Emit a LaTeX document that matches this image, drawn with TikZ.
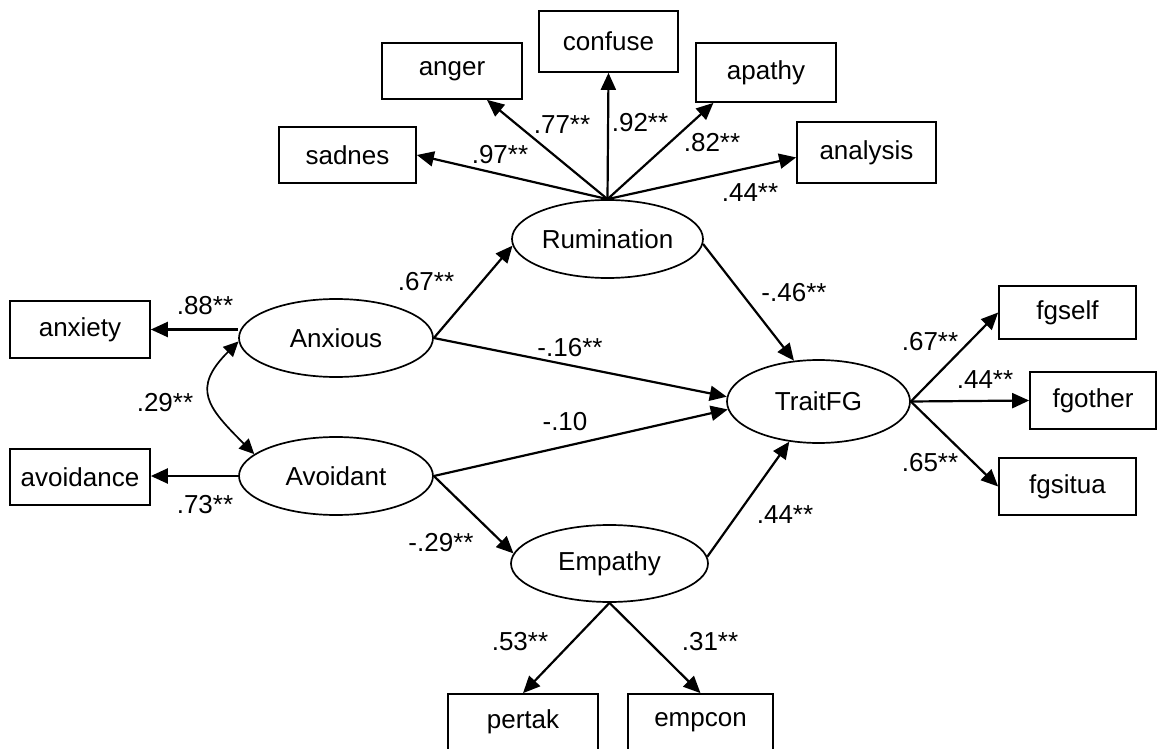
\documentclass[tikz,border=0pt]{standalone}
\usepackage{fontspec}
\setmainfont{Liberation Sans}
\usetikzlibrary{shapes.geometric,arrows.meta,calc}
\begin{document}
\begin{tikzpicture}[x=1pt,y=1pt,
  font=\fontsize{26}{30}\selectfont,
  obs/.style={draw, line width=1.7pt, inner sep=0pt},
  lat/.style={draw, ellipse, line width=1.7pt, inner sep=0pt},
  arr/.style={-{Triangle[length=17pt,width=15pt]}, line width=2.2pt},
  cov/.style={{Triangle[length=15pt,width=14pt]}-{Triangle[length=15pt,width=14pt]}, line width=1.7pt},
  coef/.style={inner sep=0pt}
]
\useasboundingbox (0,0) rectangle (1157,-749);
\fill[white] (0,0) rectangle (1157,-749);
\clip (0,0) rectangle (1157,-749);

% observed indicators
\node[obs, minimum width=137pt, minimum height=56pt] (sadnes)    at (347.5,-155)  {sadnes};
\node[obs, minimum width=140pt, minimum height=56pt] (anger)     at (452,-71)     {anger};
\node[obs, minimum width=139pt, minimum height=61pt] (confuse)   at (608.5,-41.5) {confuse};
\node[obs, minimum width=140pt, minimum height=59pt] (apathy)    at (766,-72.5)   {apathy};
\node[obs, minimum width=139pt, minimum height=61pt] (analysis)  at (866.5,-152.5){analysis};
\node[obs, minimum width=140pt, minimum height=57pt] (anxiety)   at (80,-329.5)   {anxiety};
\node[obs, minimum width=140pt, minimum height=56pt] (avoidance) at (80,-477)     {avoidance};
\node[obs, minimum width=137pt, minimum height=53pt] (fgself)    at (1067.5,-312.5){fgself};
\node[obs, minimum width=126pt, minimum height=57pt] (fgother)   at (1093,-400.5) {fgother};
\node[obs, minimum width=137pt, minimum height=57pt] (fgsitua)   at (1067.5,-486.5){fgsitua};
\node[obs, minimum width=150pt, minimum height=56pt] (pertak)    at (523,-722)    {pertak};
\node[obs, minimum width=145pt, minimum height=56pt] (empcon)    at (700.5,-722)  {empcon};

% latent variables
\node[lat, minimum width=191pt, minimum height=78pt] (rum) at (607.5,-239) {Rumination};
\node[lat, minimum width=194pt, minimum height=78pt] (anx) at (336,-338)   {Anxious};
\node[lat, minimum width=194pt, minimum height=78pt] (avo) at (336,-476)   {Avoidant};
\node[lat, minimum width=183pt, minimum height=83pt] (tfg) at (818.5,-401.5) {TraitFG};
\node[lat, minimum width=197pt, minimum height=77pt] (emp) at (609.5,-563.5) {Empathy};

% rumination loadings
\draw[arr] (rum.north) -- (sadnes.east);
\draw[arr] (rum.north) -- (anger);
\draw[arr] (rum.north) -- (confuse.south);
\draw[arr] (rum.north) -- (apathy.210);
\draw[arr] (rum.north) -- (analysis.184);

% attachment loadings and covariance
\draw[arr] (anx.west |- anxiety.east) -- (anxiety.east);
\draw[arr] (avo.west) -- (avo.west -| avoidance.east);
\draw[cov] (anx.182) to[out=225,in=135,looseness=1.5] (avo.165);

% structural paths
\draw[arr] (anx.east) -- (rum.184);
\draw[arr] (anx.east) -- (tfg.177);
\draw[arr] (avo.east) -- (tfg.185);
\draw[arr] (rum.-3) -- (tfg.121);
\draw[arr] (avo.east) -- (emp.174);
\draw[arr] (emp.4) -- (tfg.234);

% forgiveness loadings
\draw[arr] (tfg.east) -- (fgself.west);
\draw[arr] (tfg.east) -- (fgother.west);
\draw[arr] (tfg.east) -- (fgsitua.west);

% empathy loadings
\draw[arr] (emp.south) -- (pertak.north);
\draw[arr] (emp.south) -- (empcon.north);

% coefficients
\node[coef] (c1)  at (500,-155) {.97**};
\node[coef] (c2)  at (562,-125) {.77**};
\node[coef] (c3)  at (640,-123) {.92**};
\node[coef] (c4)  at (712,-143) {.82**};
\node[coef] (c5)  at (750,-193) {.44**};
\node[coef] (c6)  at (205,-306) {.88**};
\node[coef] (c7)  at (165,-403) {.29**};
\node[coef] (c8)  at (205,-505) {.73**};
\node[coef] (c9)  at (426,-282) {.67**};
\node[coef] (c10) at (570,-348) {-.16**};
\node[coef] (c11) at (565,-422) {-.10};
\node[coef] (c12) at (794,-293) {-.46**};
\node[coef] (c13) at (930,-342) {.67**};
\node[coef] (c14) at (985,-380) {.44**};
\node[coef] (c15) at (930,-463) {.65**};
\node[coef] (c16) at (441,-543) {-.29**};
\node[coef] (c17) at (785,-515) {.44**};
\node[coef] (c18) at (520,-642) {.53**};
\node[coef] (c19) at (710,-642) {.31**};
\end{tikzpicture}
\end{document}
